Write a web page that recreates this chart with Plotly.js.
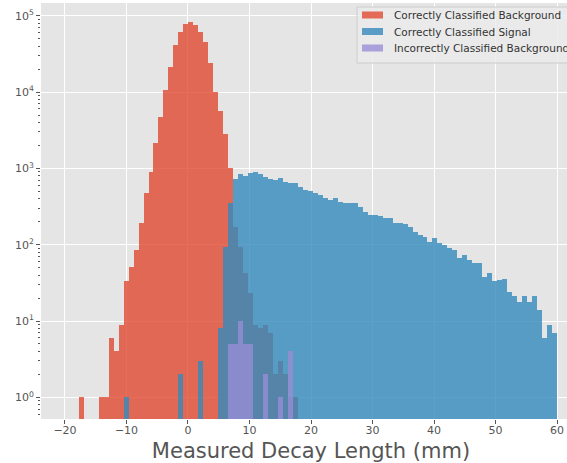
<!DOCTYPE html>
<html>
<head>
<meta charset="utf-8">
<script src="https://cdn.plot.ly/plotly-3.0.1.min.js"></script>
<style>
html, body { margin: 0; padding: 0; overflow: hidden; background: #fff; }
#chart { width: 600px; height: 463px; }
</style>
</head>
<body>
<div id="chart"></div>
<script>
// Histogram binning (mm)
const binStart = -17.76;
const binWidth = 0.81;

// Counts per bin (bin k spans binStart + k*binWidth ... +binWidth)
const bkgCorrect = [
  1, 0, 0, 0, 1, 1, 6, 4, 9, 33,
  51, 85, 192, 470, 905, 2140, 4750, 10700, 21500, 41400,
  62000, 77500, 83500, 76000, 62000, 45700, 24000, 10000, 5600, 2800,
  1000, 172, 94, 43, 23, 9, 8, 9, 7, 2,
  3, 2, 1, 1, 0, 0, 0, 0, 0, 0,
  0, 0, 0, 0, 0, 0, 0, 0, 0, 0,
  0, 0, 0, 0, 0, 0, 0, 0, 0, 0,
  0, 0, 0, 0, 0, 0, 0, 0, 0, 0,
  0, 0, 0, 0, 0, 0, 0, 0, 0, 0,
  0, 0, 0, 0, 0, 0
];
const sigCorrect = [
  0, 0, 0, 0, 0, 0, 0, 0, 0, 1,
  0, 0, 0, 0, 0, 0, 0, 0, 0, 0,
  2, 0, 0, 0, 3, 0, 0, 0, 8, 94,
  355, 720, 845, 795, 862, 897, 845, 780, 720, 705,
  741, 670, 638, 650, 576, 521, 510, 479, 448, 405,
  385, 405, 366, 349, 355, 349, 315, 270, 245, 247,
  238, 226, 221, 195, 191, 187, 172, 148, 134, 125,
  110, 121, 104, 99, 90, 85, 66, 73, 63, 58,
  57, 38, 43, 33, 34, 36, 24, 21, 18, 21,
  18, 21, 14, 6, 9, 7
];
const bkgIncorrect = [
  0, 0, 0, 0, 0, 0, 0, 0, 0, 0,
  0, 0, 0, 0, 0, 0, 0, 0, 0, 0,
  0, 0, 0, 0, 0, 0, 0, 0, 0, 0,
  5, 5, 10, 5, 5, 0, 0, 2, 0, 0,
  1, 0, 4, 0, 0, 0, 0, 0, 0, 0,
  0, 0, 0, 0, 0, 0, 0, 0, 0, 0,
  0, 0, 0, 0, 0, 0, 0, 0, 0, 0,
  0, 0, 0, 0, 0, 0, 0, 0, 0, 0,
  0, 0, 0, 0, 0, 0, 0, 0, 0, 0,
  0, 0, 0, 0, 0, 0
];
const seriesNames = ['Correctly Classified Background', 'Correctly Classified Signal', 'Incorrectly Classified Background'];
const xTicks = [-20, -10, 0, 10, 20, 30, 40, 50, 60];
const yTicks = [1, 10, 100, 1000, 10000, 100000];
const yTickText = ['10<sup>0</sup>', '10<sup>1</sup>', '10<sup>2</sup>', '10<sup>3</sup>', '10<sup>4</sup>', '10<sup>5</sup>'];

const centers = bkgCorrect.map((_, k) => binStart + binWidth * (k + 0.5));
const colors = ['#E24A33', '#348ABD', '#988ED5'];
const series = [bkgCorrect, sigCorrect, bkgIncorrect];

const traces = series.map((vals, i) => ({
  type: 'bar',
  name: seriesNames[i],
  x: centers,
  y: vals.map(v => v > 0 ? v : null),
  width: binWidth,
  marker: { color: colors[i], line: { width: 0 } },
  opacity: 0.8,
  hoverinfo: 'x+y+name'
}));

// Matplotlib-style legend box (patches + labels), placed in plot-area pixels
const W = 600, H = 463;
const M = { l: 41, r: 19, t: 3, b: 44 };
const plotW = W - M.l - M.r, plotH = H - M.t - M.b;
const px = x => (x - M.l) / plotW;
const py = y => (H - M.b - y) / plotH;

const shapes = [{
  type: 'rect', xref: 'paper', yref: 'paper',
  x0: px(357), x1: px(577), y0: py(63), y1: py(7),
  fillcolor: 'rgba(235,235,235,0.85)', line: { color: '#CCCCCC', width: 1 }, layer: 'above'
}];
const annotations = [];
seriesNames.forEach((name, i) => {
  const cy = 15 + i * 16.5;
  shapes.push({
    type: 'rect', xref: 'paper', yref: 'paper',
    x0: px(362), x1: px(383), y0: py(cy + 3.5), y1: py(cy - 3.5),
    fillcolor: colors[i], opacity: 0.8, line: { width: 0 }, layer: 'above'
  });
  annotations.push({
    xref: 'paper', yref: 'paper', x: px(392), y: py(cy),
    xanchor: 'left', yanchor: 'middle', showarrow: false,
    text: name, font: { family: 'DejaVu Sans', size: 10.5, color: '#333333' }
  });
});

const layout = {
  width: W,
  height: H,
  margin: M,
  paper_bgcolor: '#ffffff',
  plot_bgcolor: '#E5E5E5',
  font: { family: 'DejaVu Sans', color: '#555555', size: 11 },
  barmode: 'overlay',
  bargap: 0,
  showlegend: false,
  shapes: shapes,
  annotations: annotations,
  xaxis: {
    range: [-23.9, 63.9],
    tickvals: xTicks,
    ticks: 'outside', ticklen: 4, tickwidth: 1, tickcolor: '#555555',
    ticklabelstandoff: -3,
    showgrid: true, gridcolor: '#FFFFFF', gridwidth: 1,
    zeroline: false, showline: false,
    tickfont: { size: 11, color: '#555555' },
    title: { text: 'Measured Decay Length (mm)', font: { size: 21, color: '#555555' }, standoff: 9 }
  },
  yaxis: {
    type: 'log',
    range: [-0.284, 5.167],
    tickvals: yTicks,
    ticktext: yTickText,
    ticks: 'outside', ticklen: 4, tickwidth: 1, tickcolor: '#555555',
    showgrid: true, gridcolor: '#FFFFFF', gridwidth: 1,
    zeroline: false, showline: false,
    tickfont: { size: 11, color: '#555555' },
    minor: { ticks: 'outside', ticklen: 2, tickwidth: 1, tickcolor: '#555555', dtick: 'D1', showgrid: false }
  }
};

Plotly.newPlot('chart', traces, layout, { displayModeBar: false, staticPlot: true });
</script>
</body>
</html>
